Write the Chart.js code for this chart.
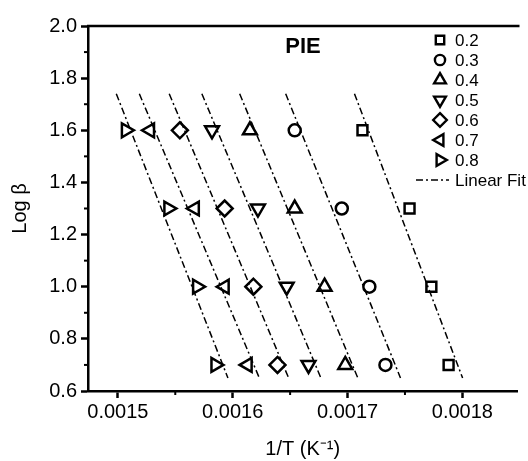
<!DOCTYPE html>
<html><head><meta charset="utf-8">
<script src="https://cdn.jsdelivr.net/npm/chart.js@4.4.0/dist/chart.umd.min.js"></script>
<style>html,body{margin:0;padding:0;background:#fff}#wrap{width:528px;height:461px;position:relative}</style>
</head><body><div id="wrap"><canvas id="c"></canvas></div>
<script>
// ---- data ----
const seriesLabels = ['0.2', '0.3', '0.4', '0.5', '0.6', '0.7', '0.8'];
const logBeta = [1.6, 1.3, 1.0, 0.7];
const invT_02 = [0.001713, 0.001754, 0.001773, 0.001788];
const invT_03 = [0.001654, 0.001695, 0.001719, 0.001733];
const invT_04 = [0.001615, 0.001654, 0.001680, 0.001698];
const invT_05 = [0.001582, 0.001622, 0.001647, 0.001666];
const invT_06 = [0.001554, 0.001593, 0.001618, 0.001639];
const invT_07 = [0.001528, 0.001567, 0.001593, 0.001613];
const invT_08 = [0.001507, 0.001544, 0.001569, 0.001585];
const xTickValues = [0.0015, 0.0016, 0.0017, 0.0018];
const xMinorValues = [0.00155, 0.00165, 0.00175];
const yTickValues = [0.6, 0.8, 1.0, 1.2, 1.4, 1.6, 1.8, 2.0];
const yMinorValues = [0.7, 0.9, 1.1, 1.3, 1.5, 1.7, 1.9];
const fitRange = [1.74, 0.65];
const titleText = 'PIE';
const fitLabel = 'Linear Fit';

const allX = [invT_02, invT_03, invT_04, invT_05, invT_06, invT_07, invT_08];
const markers = [
  {style: 'rect', r: 7, rot: 0},
  {style: 'circle', r: 6, rot: 0},
  {style: 'triangle', r: 8, rot: 0},
  {style: 'triangle', r: 8, rot: 180},
  {style: 'rectRot', r: 8, rot: 0},
  {style: 'triangle', r: 8, rot: 270},
  {style: 'triangle', r: 8, rot: 90}
];

function fitLine(xs, ys) {
  const n = xs.length;
  const mx = xs.reduce((a, b) => a + b, 0) / n;
  const my = ys.reduce((a, b) => a + b, 0) / n;
  let sxy = 0, sxx = 0;
  for (let i = 0; i < n; i++) { sxy += (xs[i] - mx) * (ys[i] - my); sxx += (xs[i] - mx) * (xs[i] - mx); }
  const b = sxy / sxx, a = my - b * mx;
  return fitRange.map(y => ({x: (y - a) / b, y: y}));
}

const datasets = [];
allX.forEach((xs, i) => {
  datasets.push({
    label: 'fit' + seriesLabels[i], data: fitLine(xs, logBeta), showLine: true,
    borderColor: '#000', borderWidth: 1.5, borderDash: [7, 3, 2, 3], pointRadius: 0, order: 2
  });
});
allX.forEach((xs, i) => {
  datasets.push({
    label: seriesLabels[i], data: xs.map((x, j) => ({x: x, y: logBeta[j]})), showLine: false,
    pointStyle: markers[i].style, pointRadius: markers[i].r, pointRotation: markers[i].rot,
    borderColor: '#000', backgroundColor: 'rgba(0,0,0,0)', pointBorderWidth: 2.5, order: 1
  });
});

const FONT = "'Liberation Sans', Arial, sans-serif";

function drawMarker(ctx, style, r, rot, x, y) {
  ctx.save();
  ctx.translate(x, y);
  ctx.rotate(rot * Math.PI / 180);
  ctx.beginPath();
  if (style === 'rect') { const s = Math.SQRT1_2 * r; ctx.rect(-s, -s, 2 * s, 2 * s); }
  else if (style === 'circle') { ctx.arc(0, 0, r, 0, Math.PI * 2); }
  else if (style === 'rectRot') { ctx.moveTo(0, -r); ctx.lineTo(r, 0); ctx.lineTo(0, r); ctx.lineTo(-r, 0); ctx.closePath(); }
  else {
    for (let k = 0; k < 3; k++) {
      const a = k * 2 * Math.PI / 3;
      const px = Math.sin(a) * r, py = -Math.cos(a) * r;
      if (k === 0) ctx.moveTo(px, py); else ctx.lineTo(px, py);
    }
    ctx.closePath();
  }
  ctx.stroke();
  ctx.restore();
}

const extras = {
  id: 'extras',
  afterDraw(chart) {
    const ctx = chart.ctx, xs = chart.scales.x, ys = chart.scales.y, ca = chart.chartArea;
    ctx.save();
    ctx.strokeStyle = '#000';
    ctx.lineWidth = 2.5;
    // top frame
    ctx.beginPath(); ctx.moveTo(ca.left - 1, ca.top); ctx.lineTo(ca.right + 2, ca.top); ctx.stroke();
    // minor ticks
    ctx.lineWidth = 2;
    xMinorValues.forEach(v => { const p = xs.getPixelForValue(v); ctx.beginPath(); ctx.moveTo(p, ca.bottom); ctx.lineTo(p, ca.bottom + 4); ctx.stroke(); });
    yMinorValues.forEach(v => { const p = ys.getPixelForValue(v); ctx.beginPath(); ctx.moveTo(ca.left, p); ctx.lineTo(ca.left - 4, p); ctx.stroke(); });
    // title
    ctx.fillStyle = '#000';
    ctx.font = 'bold 22px ' + FONT;
    ctx.textAlign = 'center'; ctx.textBaseline = 'middle';
    ctx.fillText(titleText, 303, 47);
    // legend
    ctx.font = '17px ' + FONT;
    ctx.textAlign = 'left';
    ctx.lineWidth = 2.4;
    const lx = 440, tx = 455;
    seriesLabels.forEach((lab, i) => {
      const y = 40 + i * 20;
      const m = markers[i];
      drawMarker(ctx, m.style, m.r * 0.85, m.rot, lx, y);
      ctx.fillText(lab, tx, y + 1);
    });
    const fy = 180;
    ctx.lineWidth = 1.5;
    ctx.setLineDash([7, 3, 2, 3]);
    ctx.beginPath(); ctx.moveTo(416, fy); ctx.lineTo(449, fy); ctx.stroke();
    ctx.setLineDash([]);
    ctx.fillText(fitLabel, tx, fy + 1);
    ctx.restore();
  }
};

new Chart(document.getElementById('c'), {
  type: 'scatter',
  data: {datasets: datasets},
  options: {
    responsive: true, maintainAspectRatio: false, animation: false,
    layout: {padding: {top: 26, right: 0, left: 0, bottom: 0}},
    plugins: {legend: {display: false}, tooltip: {enabled: false}},
    scales: {
      x: {
        type: 'linear', min: 0.001474, max: 0.001848,
        afterBuildTicks: s => { s.ticks = xTickValues.map(v => ({value: v})); },
        afterFit: s => { s.height = 70; },
        ticks: {color: '#000', font: {family: FONT, size: 20}, padding: 2, maxRotation: 0, autoSkip: false,
          callback: v => v.toFixed(4)},
        grid: {drawOnChartArea: false, tickLength: 7, tickWidth: 2.5, color: '#000'},
        border: {display: true, width: 2.5, color: '#000'},
        title: {display: true, text: '1/T (K\u207B\u00B9)', color: '#000', font: {family: FONT, size: 20}, padding: {top: 6, bottom: 0}}
      },
      y: {
        type: 'linear', min: 0.6, max: 2.0,
        afterBuildTicks: s => { s.ticks = yTickValues.map(v => ({value: v})); },
        afterFit: s => { s.width = 88; },
        ticks: {color: '#000', font: {family: FONT, size: 20}, padding: 4, autoSkip: false,
          callback: v => v.toFixed(1)},
        grid: {drawOnChartArea: false, tickLength: 7, tickWidth: 2.5, color: '#000'},
        border: {display: true, width: 2.5, color: '#000'},
        title: {display: true, text: 'Log \u03B2', color: '#000', font: {family: FONT, size: 20}, padding: {top: 8, bottom: 0}}
      }
    }
  },
  plugins: [extras]
});
</script></body></html>
